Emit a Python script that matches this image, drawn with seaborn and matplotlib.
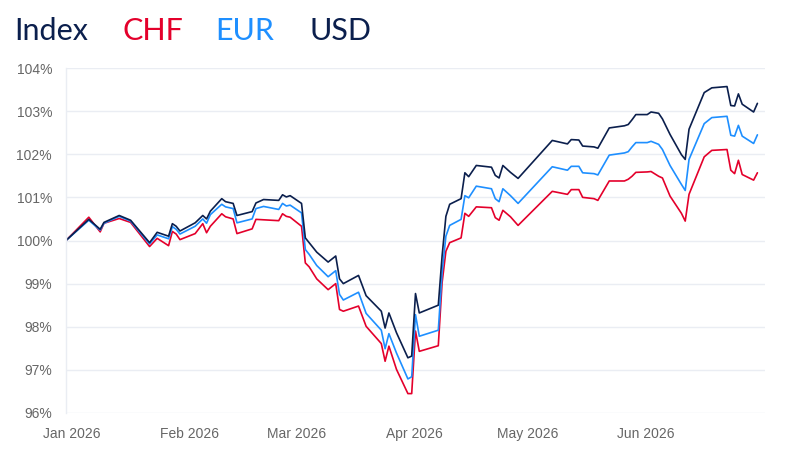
import pandas as pd
import matplotlib.pyplot as plt
import matplotlib.dates as mdates
import matplotlib.transforms as mtransforms
import seaborn as sns

# ---- data ----
dates = [
    "2026-01-01", "2026-01-07", "2026-01-10", "2026-01-11", "2026-01-15", "2026-01-18",
    "2026-01-23", "2026-01-25", "2026-01-28", "2026-01-29", "2026-01-30", "2026-01-31",
    "2026-02-04", "2026-02-06", "2026-02-07", "2026-02-08", "2026-02-11", "2026-02-12",
    "2026-02-14", "2026-02-15", "2026-02-19", "2026-02-20", "2026-02-22", "2026-02-26",
    "2026-02-27", "2026-02-28", "2026-03-01", "2026-03-04", "2026-03-05", "2026-03-06",
    "2026-03-08", "2026-03-11", "2026-03-13", "2026-03-14", "2026-03-15", "2026-03-19",
    "2026-03-21", "2026-03-25", "2026-03-26", "2026-03-27", "2026-03-29", "2026-04-01",
    "2026-04-02", "2026-04-03", "2026-04-04", "2026-04-09", "2026-04-10", "2026-04-11",
    "2026-04-12", "2026-04-15", "2026-04-16", "2026-04-17", "2026-04-19", "2026-04-23",
    "2026-04-24", "2026-04-25", "2026-04-26", "2026-04-28", "2026-04-30", "2026-05-09",
    "2026-05-13", "2026-05-14", "2026-05-16", "2026-05-17", "2026-05-20", "2026-05-21",
    "2026-05-24", "2026-05-28", "2026-05-29", "2026-05-30", "2026-05-31", "2026-06-03",
    "2026-06-04", "2026-06-06", "2026-06-07", "2026-06-09", "2026-06-12", "2026-06-13",
    "2026-06-14", "2026-06-18", "2026-06-20", "2026-06-24", "2026-06-25", "2026-06-26",
    "2026-06-27", "2026-06-28", "2026-07-01", "2026-07-02",
]
usd = [
    100.00, 100.49, 100.26, 100.42, 100.58, 100.47, 99.95, 100.19, 100.10, 100.39, 100.33, 100.22,
    100.41, 100.58, 100.50, 100.68, 100.97, 100.90, 100.86, 100.58, 100.67, 100.87, 100.95, 100.93,
    101.06, 101.01, 101.04, 100.86, 100.06, 99.95, 99.73, 99.50, 99.64, 99.11, 99.00, 99.19,
    98.72, 98.36, 97.97, 98.32, 97.86, 97.28, 97.32, 98.77, 98.32, 98.50, 99.64, 100.56,
    100.84, 100.97, 101.57, 101.48, 101.74, 101.70, 101.51, 101.45, 101.74, 101.58, 101.44, 102.32,
    102.24, 102.34, 102.33, 102.19, 102.17, 102.14, 102.61, 102.66, 102.69, 102.80, 102.92, 102.92,
    102.98, 102.95, 102.82, 102.46, 101.99, 101.88, 102.58, 103.43, 103.54, 103.57, 103.13, 103.12,
    103.40, 103.16, 102.98, 103.18,
]
eur = [
    100.00, 100.47, 100.24, 100.40, 100.56, 100.45, 99.92, 100.13, 100.04, 100.32, 100.26, 100.15,
    100.33, 100.50, 100.40, 100.60, 100.84, 100.78, 100.74, 100.41, 100.50, 100.74, 100.79, 100.72,
    100.86, 100.80, 100.82, 100.64, 99.79, 99.68, 99.42, 99.16, 99.30, 98.75, 98.62, 98.80,
    98.31, 97.92, 97.49, 97.84, 97.39, 96.79, 96.84, 98.28, 97.78, 97.92, 99.25, 100.10,
    100.35, 100.49, 101.04, 100.99, 101.26, 101.20, 100.97, 100.90, 101.20, 101.04, 100.86, 101.71,
    101.63, 101.72, 101.72, 101.57, 101.55, 101.52, 101.98, 102.03, 102.06, 102.17, 102.27, 102.27,
    102.30, 102.23, 102.11, 101.74, 101.30, 101.16, 101.88, 102.71, 102.85, 102.88, 102.44, 102.42,
    102.67, 102.42, 102.25, 102.45,
]
chf = [
    100.00, 100.54, 100.20, 100.40, 100.51, 100.42, 99.86, 100.05, 99.88, 100.21, 100.15, 100.02,
    100.16, 100.39, 100.18, 100.33, 100.62, 100.55, 100.50, 100.16, 100.27, 100.49, 100.48, 100.46,
    100.62, 100.56, 100.54, 100.33, 99.48, 99.39, 99.11, 98.86, 99.00, 98.40, 98.36, 98.48,
    98.01, 97.61, 97.20, 97.55, 97.01, 96.45, 96.45, 97.90, 97.43, 97.56, 99.02, 99.75,
    99.95, 100.06, 100.63, 100.56, 100.78, 100.76, 100.53, 100.47, 100.70, 100.55, 100.35, 101.14,
    101.07, 101.18, 101.18, 101.00, 100.97, 100.93, 101.38, 101.38, 101.42, 101.49, 101.58, 101.59,
    101.60, 101.49, 101.45, 101.03, 100.63, 100.45, 101.07, 101.94, 102.09, 102.11, 101.63, 101.55,
    101.86, 101.53, 101.40, 101.57,
]

colors = {"CHF": "#e4002b", "EUR": "#1e8fff", "USD": "#0b1f4d"}

df = pd.DataFrame({"date": pd.to_datetime(dates), "CHF": chf, "EUR": eur, "USD": usd})
df = df.melt(id_vars="date", var_name="currency", value_name="index")

sns.set_style("white")
fig = plt.figure(figsize=(8, 4.5), dpi=100)
ax = fig.add_axes([66 / 800, 37 / 450, 699 / 800, 345 / 450])

sns.lineplot(data=df, x="date", y="index", hue="currency",
             hue_order=["CHF", "EUR", "USD"], palette=colors,
             linewidth=1.2, legend=False, ax=ax)

# ---- axes styling ----
ax.set_xlim(pd.Timestamp("2026-01-01"), pd.Timestamp("2026-07-04"))
ax.set_ylim(96, 104)
ax.set_yticks(range(96, 105))
ax.set_yticklabels([f"{v}%" for v in range(96, 105)])
ax.xaxis.set_major_locator(mdates.MonthLocator(bymonth=range(1, 7)))
ax.xaxis.set_major_formatter(mdates.DateFormatter("%b %Y"))
ax.set_xlabel("")
ax.set_ylabel("")

ax.grid(axis="y", color="#eaedf3", linewidth=1)
ax.grid(axis="x", visible=False)
for side in ["top", "right", "bottom"]:
    ax.spines[side].set_visible(False)
ax.spines["left"].set_color("#eaedf3")
ax.spines["left"].set_linewidth(1)
ax.tick_params(length=0, labelsize=10, labelcolor="#666666")
ax.tick_params(axis="y", pad=10)
ax.tick_params(axis="x", pad=10)
for lab in ax.get_xticklabels() + ax.get_yticklabels():
    lab.set_fontfamily("Liberation Sans")

# month labels sit slightly right of the month start
shift = mtransforms.ScaledTranslation(6 / 100, 0, fig.dpi_scale_trans)
for lab in ax.get_xticklabels():
    lab.set_transform(lab.get_transform() + shift)

# ---- header legend ----
header = [("Index", 14, "#0b1f4d"), ("CHF", 122, colors["CHF"]),
          ("EUR", 215, colors["EUR"]), ("USD", 310, colors["USD"])]
for word, px, col in header:
    fig.text(px / 800, 1 - 40 / 450, word, color=col, fontsize=22,
             fontfamily="Lato", va="baseline", ha="left")

fig.savefig("out.png", dpi=100)
